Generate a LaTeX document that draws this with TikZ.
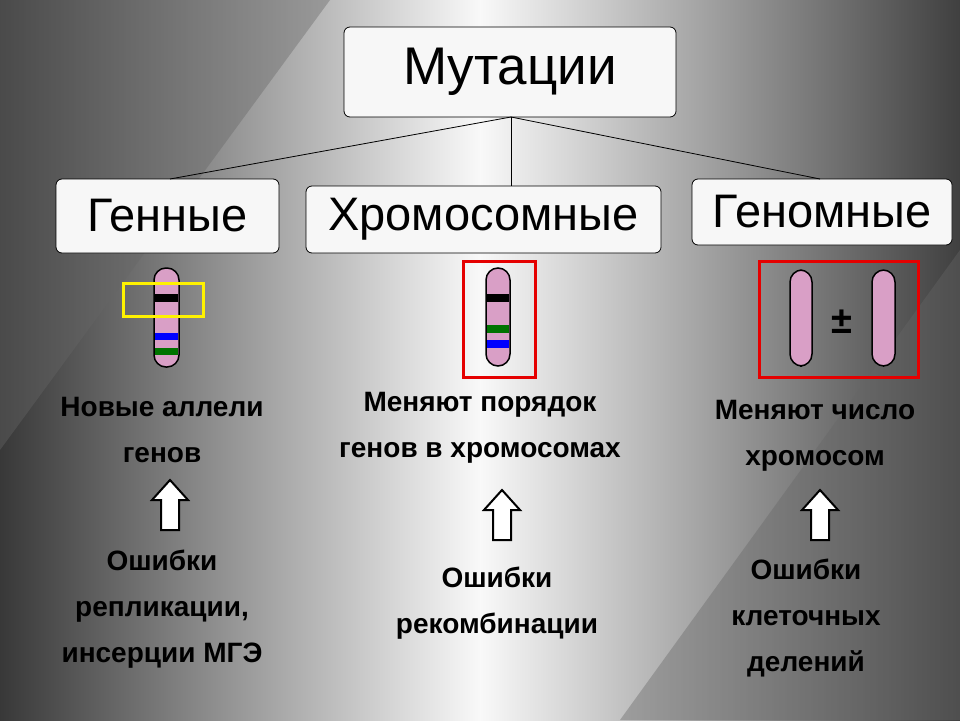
\documentclass[tikz,border=0pt]{standalone}
\usepackage{fontspec}
\setmainfont{Liberation Sans}
\begin{document}
\begin{tikzpicture}[x=1pt,y=-1pt,
  box/.style={draw=black,thick,fill=white!94!gray,rounded corners=6pt,inner sep=0pt},
  chrom/.style={draw=black,line width=1.5pt,fill=pink!50!violet!60!white,rounded corners=12pt},
  txt/.style={font=\fontsize{28}{46}\selectfont\bfseries,align=center,text=black},
  up/.style={draw=black,line width=2pt,fill=white}]
\useasboundingbox (0,0) rectangle (960,720);
\shade[shading angle=-35,left color=black!78,right color=black!75,middle color=white!95!gray] (0,0) rectangle (960,720);
\fill[black!60,opacity=0.4] (0,0) -- (330,0) -- (0,450) -- cycle;
\fill[black!60,opacity=0.4] (960,720) -- (960,250) -- (620,720) -- cycle;
% boxes
\node[box,minimum width=332pt,minimum height=90pt,font=\fontsize{53}{60}\selectfont] (m) at (510,72) {Мутации};
\node[box,minimum width=223pt,minimum height=74pt,font=\fontsize{47}{50}\selectfont] (g) at (167.5,216) {Генные};
\node[box,minimum width=355pt,minimum height=67pt,font=\fontsize{47}{50}\selectfont] (h) at (483.5,219.5) {Хромосомные};
\node[box,minimum width=260pt,minimum height=66pt,font=\fontsize{47}{50}\selectfont] (gn) at (822,212) {Геномные};
\coordinate (top) at (511,117);
\draw[thick] (top) -- (170,179);
\draw[thick] (top) -- (511,186);
\draw[thick] (top) -- (820,179);
% chromosome 1
\draw[chrom] (154,268) rectangle (179,367);
\fill[black] (155,294) rectangle (178,302);
\fill[blue] (155,333) rectangle (178,340);
\fill[green!45!black] (155,348) rectangle (178,355);
\draw[yellow,line width=3pt] (123,283) rectangle (203,316);
% chromosome 2
\draw[red!90!black,line width=3pt] (463,261) rectangle (535,377);
\draw[chrom] (486,268) rectangle (510,366);
\fill[black] (487,294) rectangle (509,302);
\fill[green!45!black] (487,325) rectangle (509,333);
\fill[blue] (487,340) rectangle (509,348);
% genome
\draw[red!90!black,line width=3pt] (759,261) rectangle (918,377);
\draw[chrom] (790,270) rectangle (812,366);
\draw[chrom] (872,270) rectangle (895,366);
\node[font=\fontsize{38}{40}\selectfont\bfseries] (pm) at (842,322) {±};
% texts
\node[txt] (t1) at (162,430) {Новые аллели\\генов};
\node[txt] (t2) at (480,428) {Меняют порядок\\генов в хромосомах};
\node[txt] (t3) at (815,436) {Меняют число\\хромосом};
\node[txt] (b1) at (162,609) {Ошибки\\репликации,\\инсерции МГЭ};
\node[txt] (b2) at (497,603) {Ошибки\\рекомбинации};
\node[txt] (b3) at (806,618) {Ошибки\\клеточных\\делений};
% arrows
\foreach \x/\y in {170/480,502/490,820/490}{
  \draw[up,line join=miter] (\x,\y) -- (\x+18,\y+20) -- (\x+9,\y+20) -- (\x+9,\y+50) -- (\x-9,\y+50) -- (\x-9,\y+20) -- (\x-18,\y+20) -- cycle;
}
\end{tikzpicture}
\end{document}
